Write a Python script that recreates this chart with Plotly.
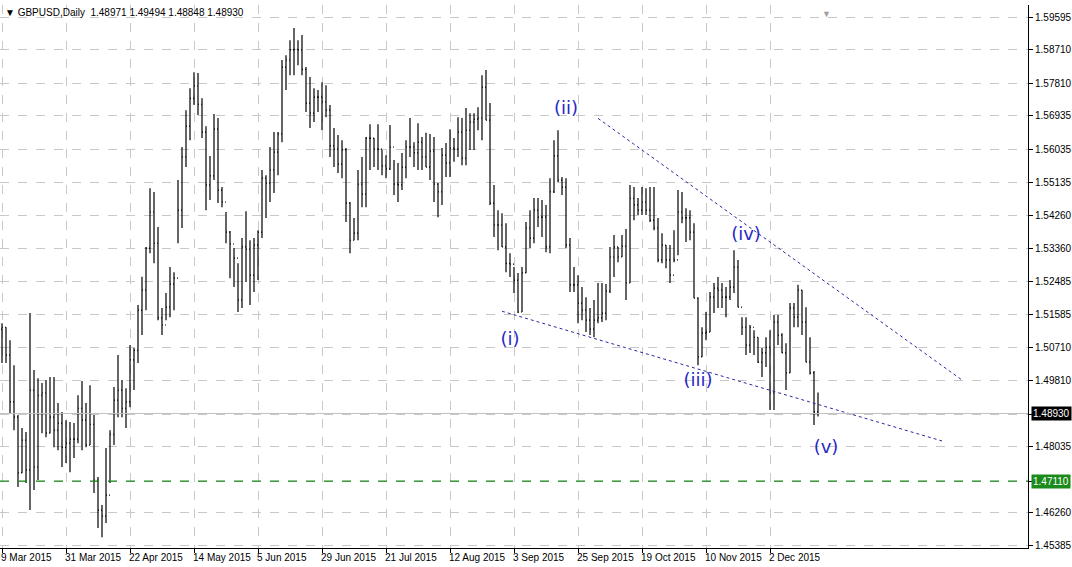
import plotly.graph_objects as go

# daily GBPUSD bars, 9 Mar 2015 .. 18 Dec 2015
highs = [
    1.5136, 1.5125, 1.5090, 1.5023, 1.4889, 1.4854, 1.4843, 1.5163, 1.5010, 1.4988,
    1.4975, 1.4983, 1.4991, 1.4991, 1.4921, 1.4897, 1.4875, 1.4870, 1.4867, 1.4942,
    1.4980, 1.4921, 1.4969, 1.4889, 1.4722, 1.4647, 1.4800, 1.4848, 1.4964, 1.5050,
    1.4983, 1.4961, 1.5077, 1.5069, 1.5185, 1.5261, 1.5341, 1.5499, 1.5489, 1.5395,
    1.5177, 1.5217, 1.5287, 1.5273, 1.5521, 1.5610, 1.5709, 1.5768, 1.5811, 1.5809,
    1.5741, 1.5666, 1.5586, 1.5699, 1.5688, 1.5502, 1.5435, 1.5384, 1.5338, 1.5297,
    1.5365, 1.5437, 1.5359, 1.5365, 1.5386, 1.5548, 1.5534, 1.5610, 1.5650, 1.5650,
    1.5844, 1.5857, 1.5897, 1.5930, 1.5897, 1.5911, 1.5825, 1.5798, 1.5768, 1.5763,
    1.5784, 1.5776, 1.5723, 1.5661, 1.5642, 1.5628, 1.5607, 1.5462, 1.5419, 1.5548,
    1.5583, 1.5637, 1.5671, 1.5634, 1.5671, 1.5602, 1.5588, 1.5669, 1.5575, 1.5567,
    1.5594, 1.5628, 1.5688, 1.5623, 1.5674, 1.5637, 1.5648, 1.5645, 1.5637, 1.5513,
    1.5607, 1.5621, 1.5658, 1.5634, 1.5690, 1.5688, 1.5715, 1.5701, 1.5701, 1.5717,
    1.5803, 1.5817, 1.5728, 1.5508, 1.5440, 1.5432, 1.5405, 1.5324, 1.5287, 1.5271,
    1.5287, 1.5408, 1.5440, 1.5473, 1.5473, 1.5467, 1.5454, 1.5526, 1.5628, 1.5655,
    1.5529, 1.5526, 1.5365, 1.5287, 1.5265, 1.5233, 1.5206, 1.5177, 1.5198, 1.5244,
    1.5244, 1.5241, 1.5341, 1.5373, 1.5341, 1.5373, 1.5389, 1.5508, 1.5502, 1.5473,
    1.5502, 1.5499, 1.5502, 1.5502, 1.5419, 1.5378, 1.5346, 1.5346, 1.5386, 1.5494,
    1.5489, 1.5445, 1.5440, 1.5405, 1.5206, 1.5125, 1.5166, 1.5220, 1.5244, 1.5260,
    1.5244, 1.5233, 1.5252, 1.5332, 1.5306, 1.5152, 1.5152, 1.5131, 1.5117, 1.5098,
    1.5069, 1.5098, 1.5117, 1.5158, 1.5158, 1.5109, 1.5082, 1.5190, 1.5190, 1.5239,
    1.5225, 1.5179, 1.5098, 1.5007, 1.49494,
]
lows = [
    1.5029, 1.5029, 1.4894, 1.4848, 1.4695, 1.4733, 1.4706, 1.4633, 1.4687, 1.4714,
    1.4840, 1.4829, 1.4840, 1.4802, 1.4794, 1.4749, 1.4760, 1.4735, 1.4773, 1.4813,
    1.4794, 1.4802, 1.4808, 1.4679, 1.4585, 1.4560, 1.4598, 1.4706, 1.4808, 1.4883,
    1.4883, 1.4854, 1.4910, 1.4956, 1.5029, 1.5104, 1.5171, 1.5324, 1.5297, 1.5144,
    1.5104, 1.5144, 1.5152, 1.5171, 1.5351, 1.5392, 1.5556, 1.5628, 1.5723, 1.5696,
    1.5634, 1.5440, 1.5467, 1.5521, 1.5459, 1.5448, 1.5351, 1.5257, 1.5233, 1.5166,
    1.5177, 1.5247, 1.5185, 1.5220, 1.5252, 1.5365, 1.5419, 1.5462, 1.5486, 1.5534,
    1.5623, 1.5763, 1.5803, 1.5803, 1.5830, 1.5803, 1.5704, 1.5661, 1.5677, 1.5704,
    1.5655, 1.5690, 1.5583, 1.5556, 1.5540, 1.5526, 1.5408, 1.5324, 1.5359, 1.5359,
    1.5448, 1.5448, 1.5548, 1.5556, 1.5548, 1.5534, 1.5526, 1.5548, 1.5481, 1.5462,
    1.5494, 1.5526, 1.5583, 1.5556, 1.5548, 1.5548, 1.5556, 1.5521, 1.5462, 1.5421,
    1.5454, 1.5529, 1.5529, 1.5570, 1.5583, 1.5561, 1.5561, 1.5602, 1.5602, 1.5655,
    1.5628, 1.5682, 1.5454, 1.5368, 1.5332, 1.5341, 1.5273, 1.5260, 1.5217, 1.5163,
    1.5166, 1.5271, 1.5338, 1.5351, 1.5395, 1.5368, 1.5327, 1.5324, 1.5486, 1.5515,
    1.5481, 1.5338, 1.5220, 1.5220, 1.5136, 1.5144, 1.5112, 1.5104, 1.5098, 1.5136,
    1.5139, 1.5144, 1.5217, 1.5260, 1.5300, 1.5314, 1.5198, 1.5244, 1.5413, 1.5427,
    1.5427, 1.5427, 1.5408, 1.5386, 1.5300, 1.5297, 1.5284, 1.5244, 1.5300, 1.5319,
    1.5405, 1.5354, 1.5359, 1.5203, 1.5023, 1.5045, 1.5090, 1.5112, 1.5163, 1.5177,
    1.5177, 1.5152, 1.5198, 1.5217, 1.5179, 1.5104, 1.5050, 1.5056, 1.5050, 1.5029,
    1.4991, 1.5018, 1.4902, 1.4902, 1.5077, 1.5056, 1.4956, 1.5002, 1.5125, 1.5125,
    1.5104, 1.5031, 1.4998, 1.4862, 1.48848,
]
closes = [
    1.5125, 1.5050, 1.4924, 1.4883, 1.4733, 1.4821, 1.4741, 1.4956, 1.4749, 1.4942,
    1.4948, 1.4840, 1.4883, 1.4848, 1.4867, 1.4802, 1.4813, 1.4824, 1.4824, 1.4907,
    1.4875, 1.4808, 1.4864, 1.4714, 1.4633, 1.4617, 1.4673, 1.4837, 1.4929, 1.4956,
    1.4907, 1.4924, 1.5037, 1.5063, 1.5171, 1.5225, 1.5338, 1.5435, 1.5351, 1.5150,
    1.5131, 1.5179, 1.5241, 1.5257, 1.5440, 1.5583, 1.5666, 1.5741, 1.5774, 1.5725,
    1.5650, 1.5508, 1.5532, 1.5658, 1.5494, 1.5462, 1.5381, 1.5349, 1.5311, 1.5198,
    1.5341, 1.5335, 1.5265, 1.5346, 1.5381, 1.5526, 1.5513, 1.5548, 1.5596, 1.5645,
    1.5825, 1.5844, 1.5871, 1.5873, 1.5871, 1.5819, 1.5728, 1.5701, 1.5744, 1.5744,
    1.5731, 1.5709, 1.5613, 1.5604, 1.5564, 1.5602, 1.5459, 1.5359, 1.5378, 1.5510,
    1.5483, 1.5634, 1.5634, 1.5604, 1.5604, 1.5559, 1.5551, 1.5610, 1.5510, 1.5508,
    1.5556, 1.5610, 1.5610, 1.5594, 1.5623, 1.5583, 1.5556, 1.5599, 1.5510, 1.5489,
    1.5588, 1.5567, 1.5607, 1.5604, 1.5650, 1.5580, 1.5655, 1.5677, 1.5685, 1.5688,
    1.5771, 1.5682, 1.5459, 1.5400, 1.5400, 1.5341, 1.5297, 1.5295, 1.5252, 1.5166,
    1.5271, 1.5392, 1.5365, 1.5440, 1.5421, 1.5421, 1.5341, 1.5489, 1.5586, 1.5521,
    1.5502, 1.5346, 1.5239, 1.5239, 1.5190, 1.5171, 1.5144, 1.5120, 1.5144, 1.5150,
    1.5163, 1.5222, 1.5314, 1.5341, 1.5314, 1.5343, 1.5244, 1.5472, 1.5454, 1.5440,
    1.5462, 1.5440, 1.5413, 1.5392, 1.5306, 1.5346, 1.5306, 1.5265, 1.5306, 1.5435,
    1.5419, 1.5419, 1.5381, 1.5203, 1.5045, 1.5109, 1.5112, 1.5206, 1.5230, 1.5225,
    1.5206, 1.5206, 1.5233, 1.5287, 1.5179, 1.5125, 1.5077, 1.5125, 1.5098, 1.5031,
    1.5056, 1.5071, 1.4948, 1.5139, 1.5104, 1.5056, 1.5002, 1.5177, 1.5152, 1.5225,
    1.5139, 1.5031, 1.5002, 1.4897, 1.48930,
]
first_open = 1.5120
last_open = 1.48971

date_labels = ["9 Mar 2015", "31 Mar 2015", "22 Apr 2015", "14 May 2015", "5 Jun 2015",
               "29 Jun 2015", "21 Jul 2015", "12 Aug 2015", "3 Sep 2015", "25 Sep 2015",
               "19 Oct 2015", "10 Nov 2015", "2 Dec 2015"]
date_idx = [0, 16, 32, 48, 64, 80, 96, 112, 128, 144, 160, 176, 192]

price_ticks = [1.59595, 1.58710, 1.57810, 1.56935, 1.56035, 1.55135, 1.54260, 1.53360,
               1.52485, 1.51585, 1.50710, 1.49810, 1.48035, 1.46260, 1.45385]
grid_only = [1.48910, 1.47110]
support_level = 1.47110
last_price = 1.48930

# elliott wave labels (bar index, price)
wave_text = ["(i)", "(ii)", "(iii)", "(iv)", "(v)"]
wave_idx = [127, 141, 174, 186, 206]
wave_px = [1.5088, 1.5712, 1.4978, 1.5371, 1.4800]

# wedge lines (bar index, price)
upper_idx = [149, 240]
upper_px = [1.5687, 1.4983]
lower_idx = [125, 235]
lower_px = [1.5168, 1.4819]

FONT = 'Liberation Sans'

n = len(closes)
opens = [first_open] + closes[:-2] + [last_open]
xs = list(range(n))

fig = go.Figure()
fig.add_trace(go.Ohlc(
    x=xs, open=opens, high=highs, low=lows, close=closes,
    increasing_line_color='black', decreasing_line_color='black',
    line_width=1.2, tickwidth=0.25, hoverinfo='skip', showlegend=False
))

# wedge trendlines
for ix, px in [(upper_idx, upper_px), (lower_idx, lower_px)]:
    fig.add_trace(go.Scatter(x=ix, y=px, mode='lines', hoverinfo='skip', showlegend=False,
                             line=dict(color='#2a2aa0', width=1, dash='dot')))

# wave labels
fig.add_trace(go.Scatter(x=wave_idx, y=wave_px, mode='text', text=wave_text,
                         textfont=dict(family='DejaVu Sans', size=18, color='#2828c8'),
                         hoverinfo='skip', showlegend=False))

# last price + support line
fig.add_hline(y=last_price, line=dict(color='#c0c0c0', width=1))
fig.add_hline(y=support_level, line=dict(color='#1a8a1a', width=1.3, dash='dash'))

fig.update_xaxes(
    range=[-0.5, 256.5], tickvals=date_idx, showticklabels=False,
    showgrid=True, gridcolor='#c8c8c8', griddash='dash', gridwidth=1,
    zeroline=False, showline=True, linecolor='black', linewidth=1,
    ticks='outside', ticklen=4, tickcolor='black', mirror=False,
    rangeslider_visible=False
)
fig.update_yaxes(
    side='right', range=[1.4531, 1.5992],
    tickvals=price_ticks + grid_only,
    ticktext=[f"{v:.5f}" for v in price_ticks] + ["", ""],
    tickfont=dict(family=FONT, size=10, color='black'),
    showgrid=True, gridcolor='#c8c8c8', griddash='dash', gridwidth=1,
    zeroline=False, showline=True, linecolor='black', linewidth=1,
    ticks='outside', ticklen=4, tickcolor='black'
)

ann = []
for lbl, i in zip(date_labels, date_idx):
    ann.append(dict(x=i, y=0, xref='x', yref='paper', yanchor='top', xanchor='left',
                    yshift=-2, xshift=-3, text=lbl, showarrow=False,
                    font=dict(family=FONT, size=10, color='black')))
ann.append(dict(x=1, y=last_price, xref='paper', yref='y', xanchor='left', xshift=3,
                text=f"{last_price:.5f}", showarrow=False, bgcolor='black', borderpad=1,
                font=dict(family=FONT, size=10, color='white')))
ann.append(dict(x=1, y=support_level, xref='paper', yref='y', xanchor='left', xshift=3,
                text=f"{support_level:.5f}", showarrow=False, bgcolor='#1a8a1a', borderpad=1,
                font=dict(family=FONT, size=10, color='white')))
ann.append(dict(x=0.003, y=1, xref='paper', yref='paper', xanchor='left', yanchor='top',
                text="▼ GBPUSD,Daily  1.48971 1.49494 1.48848 1.48930", showarrow=False,
                font=dict(family=FONT, size=10, color='black')))
ann.append(dict(x=206, y=1, xref='x', yref='paper', yanchor='top',
                text="▼", showarrow=False, font=dict(size=9, color='#a0a0a0')))

fig.update_layout(
    width=1072, height=567, template='plotly_white',
    paper_bgcolor='white', plot_bgcolor='white',
    margin=dict(l=0, r=44, t=5, b=19),
    annotations=ann, showlegend=False, hovermode=False
)

# the page body has a default 8px margin; remove it so the figure fills the window
fig.write_html("out.html", config={'displayModeBar': False},
               post_script="document.body.style.margin='0';")
